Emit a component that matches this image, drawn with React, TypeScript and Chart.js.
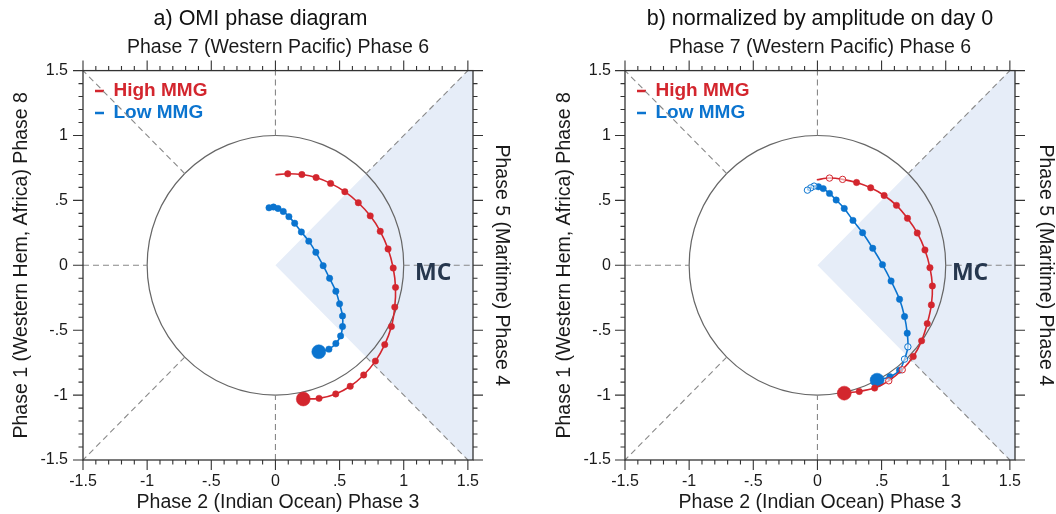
import React, { useEffect, useRef } from 'react';
import { Chart, registerables } from 'chart.js';

Chart.register(...registerables);
Chart.defaults.font.family = '"Liberation Sans", Arial, Helvetica, sans-serif';
Chart.defaults.color = '#1a1a1a';

// ---------- colours ----------
const RED = '#d3262e';
const BLUE = '#0b74cf';
const SHADE = '#e6edf8';
const MC_COLOR = '#26374e';

// ---------- axes ----------
const X_MIN = -1.5;
const X_MAX = 1.54;
const Y_MIN = -1.5;
const Y_MAX = 1.5;
const TICK_VALUES = [-1.5, -1, -0.5, 0, 0.5, 1, 1.5];
const TICK_LABELS = ['-1.5', '-1', '-.5', '0', '.5', '1', '1.5'];

const TITLE_A = 'a) OMI phase diagram';
const TITLE_B = 'b) normalized by amplitude on day 0';
const TOP_TITLE = 'Phase 7 (Western Pacific) Phase 6';
const BOTTOM_TITLE = 'Phase 2 (Indian Ocean) Phase 3';
const LEFT_TITLE = 'Phase 1 (Western Hem, Africa) Phase 8';
const RIGHT_TITLE = 'Phase 5 (Maritime) Phase 4';
const MC_LABEL = 'MC';

const SERIES_NAMES = ['High MMG', 'Low MMG'];
const SERIES_COLORS = [RED, BLUE];

// shaded Maritime Continent sector (data units)
const MC_SECTOR_X = [0, 1.5, 1.6, 1.6, 1.5, 0];
const MC_SECTOR_Y = [0, 1.5, 1.5, -1.5, -1.5, 0];

// ---------- panel a: OMI phase diagram (day 0 first) ----------
const HIGH_A_X = [0.217, 0.340, 0.470, 0.583, 0.688, 0.779, 0.852, 0.904, 0.930, 0.936, 0.918, 0.878, 0.817, 0.739, 0.646, 0.541, 0.430, 0.317, 0.206, 0.096, 0.0];
const HIGH_A_Y = [-1.030, -1.025, -0.991, -0.932, -0.845, -0.738, -0.611, -0.472, -0.322, -0.170, -0.021, 0.126, 0.262, 0.381, 0.482, 0.567, 0.631, 0.676, 0.699, 0.705, 0.698];
const LOW_A_X = [0.338, 0.417, 0.471, 0.508, 0.523, 0.523, 0.500, 0.471, 0.422, 0.372, 0.315, 0.260, 0.202, 0.150, 0.105, 0.061, 0.020, -0.015, -0.050];
const LOW_A_Y = [-0.666, -0.646, -0.603, -0.544, -0.472, -0.390, -0.297, -0.200, -0.100, -0.003, 0.100, 0.186, 0.257, 0.324, 0.375, 0.415, 0.438, 0.449, 0.443];
const MC_POS_A = [1.23, -0.065];

// ---------- panel b: normalized by amplitude on day 0 ----------
const HIGH_B_X = [0.209, 0.326, 0.446, 0.556, 0.661, 0.747, 0.812, 0.856, 0.888, 0.896, 0.877, 0.838, 0.778, 0.702, 0.616, 0.520, 0.415, 0.305, 0.196, 0.094, -0.005];
const HIGH_B_Y = [-0.985, -0.972, -0.946, -0.890, -0.805, -0.703, -0.582, -0.449, -0.305, -0.159, -0.018, 0.118, 0.249, 0.362, 0.462, 0.538, 0.597, 0.638, 0.662, 0.672, 0.659];
const HIGH_B_OPEN = [3, 4, 18, 19];
const LOW_B_X = [0.465, 0.565, 0.640, 0.679, 0.705, 0.700, 0.679, 0.640, 0.574, 0.507, 0.431, 0.352, 0.277, 0.209, 0.146, 0.094, 0.045, 0.008, -0.026, -0.052, -0.078];
const LOW_B_Y = [-0.885, -0.858, -0.808, -0.723, -0.628, -0.523, -0.395, -0.262, -0.121, 0.005, 0.131, 0.251, 0.346, 0.438, 0.503, 0.554, 0.591, 0.605, 0.610, 0.597, 0.579];
const LOW_B_OPEN = [3, 4, 18, 19, 20];
const MC_POS_B = [1.19, -0.065];

function tickLabel(v: number) {
  const i = TICK_VALUES.findIndex((t) => Math.abs(t - v) < 1e-6);
  return i >= 0 ? TICK_LABELS[i] : '';
}

function seriesDataset(label: string, color: string, xs: number[], ys: number[], openIdx: number[], lastIsEnd: boolean) {
  const n = xs.length;
  return {
    label,
    data: xs.map((x, i) => ({ x, y: ys[i] })),
    borderColor: color,
    backgroundColor: color,
    borderWidth: 1.6,
    pointRadius: xs.map((_, i) => (i === 0 ? 7 : lastIsEnd && i === n - 1 ? 0 : 3.2)),
    pointBackgroundColor: xs.map((_, i) => (openIdx.includes(i) ? 'rgba(255,255,255,0.55)' : color)),
    pointBorderColor: color,
    pointBorderWidth: xs.map((_, i) => (openIdx.includes(i) ? 1 : 0.5)),
    tension: 0.3,
    fill: false,
  };
}

function phasePlugin(mc: number[]) {
  return {
    id: 'phaseDiagram',
    beforeDatasetsDraw(chart: any) {
      const { ctx } = chart;
      const xs = chart.scales.x;
      const ys = chart.scales.y;
      const px = (v: number) => xs.getPixelForValue(v);
      const py = (v: number) => ys.getPixelForValue(v);
      ctx.save();
      // unit amplitude circle
      ctx.beginPath();
      ctx.ellipse(px(0), py(0), px(1) - px(0), py(0) - py(1), 0, 0, Math.PI * 2);
      ctx.strokeStyle = '#666';
      ctx.lineWidth = 1.2;
      ctx.stroke();
      // phase dividing lines outside the circle
      const r = Math.SQRT1_2;
      const segs = [
        [X_MIN, 0, -1, 0], [1, 0, X_MAX, 0], [0, Y_MIN, 0, -1], [0, 1, 0, Y_MAX],
        [r, r, 1.5, 1.5], [-r, r, -1.5, 1.5], [-r, -r, -1.5, -1.5], [r, -r, 1.5, -1.5],
      ];
      ctx.setLineDash([6, 4]);
      ctx.strokeStyle = '#888';
      ctx.lineWidth = 1.1;
      for (const [x1, y1, x2, y2] of segs) {
        ctx.beginPath();
        ctx.moveTo(px(x1), py(y1));
        ctx.lineTo(px(x2), py(y2));
        ctx.stroke();
      }
      ctx.setLineDash([]);
      ctx.font = 'bold 23px "Open Sans", "Liberation Sans", sans-serif';
      ctx.fillStyle = MC_COLOR;
      ctx.textAlign = 'center';
      ctx.textBaseline = 'middle';
      ctx.fillText(MC_LABEL, px(mc[0]), py(mc[1]));
      ctx.restore();
    },
    afterDatasetsDraw(chart: any) {
      const { ctx, chartArea } = chart;
      const xs = chart.scales.x;
      const ys = chart.scales.y;
      const { left, right, top, bottom } = chartArea;
      ctx.save();
      ctx.strokeStyle = '#333';
      ctx.lineWidth = 1.3;
      ctx.strokeRect(left, top, right - left, bottom - top);
      ctx.lineWidth = 1.1;
      for (let k = -15; k <= 15; k++) {
        const v = k / 10;
        const len = k % 5 === 0 ? 10 : 4.5;
        if (v >= X_MIN - 1e-9 && v <= X_MAX + 1e-9) {
          const x = xs.getPixelForValue(v);
          ctx.beginPath();
          ctx.moveTo(x, bottom); ctx.lineTo(x, bottom + len);
          ctx.moveTo(x, top); ctx.lineTo(x, top - len);
          ctx.stroke();
        }
        if (v >= Y_MIN - 1e-9 && v <= Y_MAX + 1e-9) {
          const y = ys.getPixelForValue(v);
          ctx.beginPath();
          ctx.moveTo(left, y); ctx.lineTo(left - len, y);
          ctx.moveTo(right, y); ctx.lineTo(right + len, y);
          ctx.stroke();
        }
      }
      ctx.restore();
    },
  };
}

interface PanelSpec {
  title: string;
  fullSizeTitle: boolean;
  padRight: number;
  leftWidth: number;
  rightWidth: number;
  leftTitlePad: number;
  rightTitlePad: number;
  yTickPad: number;
  high: [number[], number[], number[]];
  low: [number[], number[], number[]];
  mc: number[];
}

function makeConfig(p: PanelSpec): any {
  const axisTitleFont = { size: 19.5, lineHeight: 1.0, weight: 'normal' as const };
  return {
    type: 'line',
    data: {
      datasets: [
        seriesDataset(SERIES_NAMES[0], RED, p.high[0], p.high[1], p.high[2], true),
        seriesDataset(SERIES_NAMES[1], BLUE, p.low[0], p.low[1], p.low[2], false),
        {
          label: 'MC sector',
          data: MC_SECTOR_X.map((x, i) => ({ x, y: MC_SECTOR_Y[i] })),
          borderWidth: 0,
          borderColor: 'rgba(0,0,0,0)',
          backgroundColor: SHADE,
          pointRadius: 0,
          fill: 'shape',
          tension: 0,
        },
      ],
    },
    options: {
      responsive: false,
      animation: false,
      events: [],
      layout: { padding: { left: 0, right: p.padRight, top: 0, bottom: 0 } },
      plugins: {
        tooltip: { enabled: false },
        filler: { drawTime: 'beforeDatasetsDraw' },
        title: {
          display: true,
          text: p.title,
          fullSize: p.fullSizeTitle,
          color: '#111',
          font: { size: 21.5, weight: 'normal', lineHeight: 1.2 },
          padding: { top: 6.4, bottom: 0 },
        },
        legend: {
          position: 'chartArea',
          align: 'start',
          // the legend box starts at the canvas top; the (blank) title spacer
          // pushes the entries down into the plot area
          title: { display: true, text: ' ', font: { size: 8.5, lineHeight: 1 }, padding: { top: 70, bottom: 0 } },
          labels: {
            usePointStyle: true,
            pointStyleWidth: 18,
            padding: 3,
            font: { size: 19, weight: 'bold' },
            generateLabels: () =>
              SERIES_NAMES.map((text, i) => ({
                text,
                fontColor: SERIES_COLORS[i],
                fillStyle: SERIES_COLORS[i],
                strokeStyle: SERIES_COLORS[i],
                lineWidth: 2.6,
                pointStyle: 'dash',
                hidden: false,
                datasetIndex: i,
              })),
          },
        },
      },
      scales: {
        x: {
          type: 'linear',
          position: 'bottom',
          min: X_MIN,
          max: X_MAX,
          grid: { display: false, drawTicks: false },
          border: { display: false },
          ticks: { stepSize: 0.5, includeBounds: false, autoSkip: false, maxRotation: 0, padding: 12, font: { size: 16 }, color: '#1a1a1a', callback: (v: number) => tickLabel(v) },
          title: { display: true, text: BOTTOM_TITLE, font: axisTitleFont, color: '#1a1a1a', padding: { top: 0, bottom: 1.25 } },
          afterFit: (s: any) => { s.height = 54; },
        },
        x2: {
          type: 'linear',
          position: 'top',
          min: X_MIN,
          max: X_MAX,
          grid: { display: false, drawTicks: false },
          border: { display: false },
          ticks: { display: false },
          title: { display: true, text: TOP_TITLE, font: axisTitleFont, color: '#1a1a1a', padding: { top: 5.65, bottom: 0 } },
          afterFit: (s: any) => { s.height = 38.4; },
        },
        y: {
          type: 'linear',
          position: 'left',
          min: Y_MIN,
          max: Y_MAX,
          grid: { display: false, drawTicks: false },
          border: { display: false },
          ticks: { stepSize: 0.5, includeBounds: false, autoSkip: false, padding: p.yTickPad, font: { size: 16 }, color: '#1a1a1a', callback: (v: number) => tickLabel(v) },
          title: { display: true, text: LEFT_TITLE, font: axisTitleFont, color: '#1a1a1a', padding: { top: p.leftTitlePad, bottom: 0 } },
          afterFit: (s: any) => { s.width = p.leftWidth; },
        },
        y2: {
          type: 'linear',
          position: 'right',
          min: Y_MIN,
          max: Y_MAX,
          grid: { display: false, drawTicks: false },
          border: { display: false },
          ticks: { display: false },
          title: { display: true, text: RIGHT_TITLE, font: axisTitleFont, color: '#1a1a1a', padding: { top: p.rightTitlePad, bottom: 0 } },
          afterFit: (s: any) => { s.width = p.rightWidth; },
        },
      },
    },
    plugins: [phasePlugin(p.mc)],
  };
}

const PANEL_A: PanelSpec = {
  title: TITLE_A,
  fullSizeTitle: true,
  padRight: 7,
  leftWidth: 83,
  rightWidth: 48,
  leftTitlePad: 12,
  rightTitlePad: 10,
  yTickPad: 15,
  high: [HIGH_A_X, HIGH_A_Y, []],
  low: [LOW_A_X, LOW_A_Y, []],
  mc: MC_POS_A,
};

const PANEL_B: PanelSpec = {
  title: TITLE_B,
  fullSizeTitle: false,
  padRight: 0,
  leftWidth: 97,
  rightWidth: 41,
  leftTitlePad: 27,
  rightTitlePad: 0.7,
  yTickPad: 14,
  high: [HIGH_B_X, HIGH_B_Y, HIGH_B_OPEN],
  low: [LOW_B_X, LOW_B_Y, LOW_B_OPEN],
  mc: MC_POS_B,
};

function Panel({ spec, left }: { spec: PanelSpec; left: number }) {
  const ref = useRef<HTMLCanvasElement>(null);
  useEffect(() => {
    const chart = new Chart(ref.current as HTMLCanvasElement, makeConfig(spec));
    return () => chart.destroy();
  }, [spec]);
  return (
    <div style={{ position: 'absolute', left, top: 0, width: 528, height: 514 }}>
      <canvas ref={ref} width={528} height={514} style={{ display: 'block', width: 528, height: 514 }} />
    </div>
  );
}

export default function App() {
  return (
    <div style={{ position: 'absolute', left: 0, top: 0, width: 1056, height: 514, background: '#fff' }}>
      <Panel spec={PANEL_A} left={0} />
      <Panel spec={PANEL_B} left={528} />
    </div>
  );
}
